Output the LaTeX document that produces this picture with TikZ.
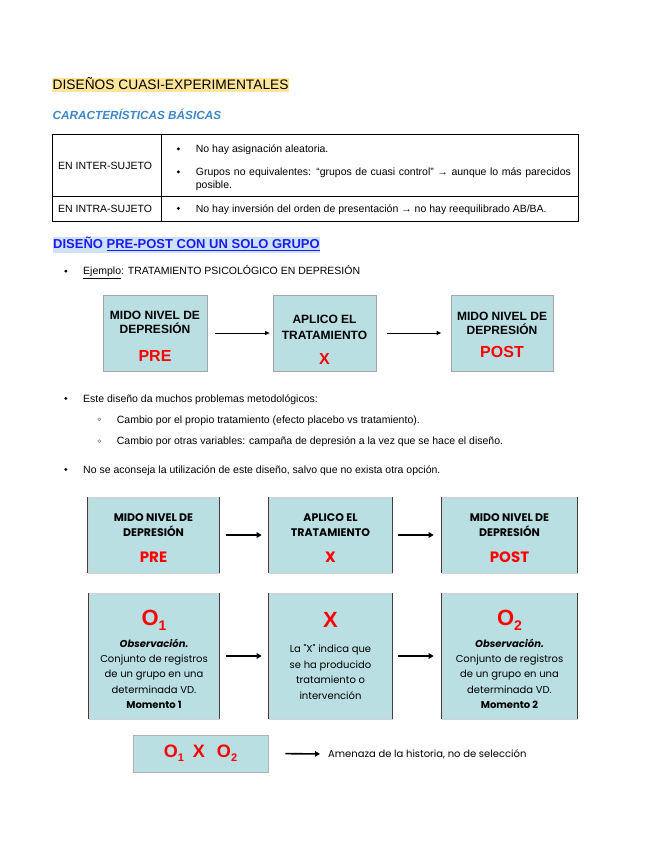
\documentclass[tikz,border=0pt]{standalone}
\usepackage{fontspec}
\setmainfont{Liberation Sans}
\newfontfamily\pop{Poppins}
\usetikzlibrary{arrows.meta}
\definecolor{boxfill}{HTML}{B9DFE3}
\definecolor{hlyellow}{HTML}{FFE599}
\definecolor{hlblue}{HTML}{CFE2F3}
\definecolor{headblue}{HTML}{1C1CF0}
\definecolor{subblue}{HTML}{3D85C6}
\definecolor{pred}{HTML}{FF0000}
\begin{document}
\begin{tikzpicture}[x=1pt,y=-1pt,
  txt/.style={anchor=base west,inner sep=0pt,font=\fontsize{10.5}{12.6}\selectfont},
  bul/.style={fill=black},
  subbul/.style={draw=gray,line width=0.5pt},
  boxA/.style={draw=gray!70,line width=0.8pt,fill=boxfill,inner sep=0pt,align=center,font=\fontsize{12}{14}\selectfont\bfseries},
  boxB/.style={draw=gray!35,line width=0.6pt,fill=boxfill,inner sep=0pt,align=center,font=\pop\fontsize{11}{15}\selectfont\bfseries},
  boxC/.style={draw=gray!35,line width=0.6pt,fill=boxfill,inner sep=0pt,align=center,font=\pop\fontsize{10}{15.3}\selectfont},
  boxD/.style={draw=gray!60,line width=0.8pt,fill=boxfill,inner sep=0pt,align=center},
  sideedge/.style={draw=black!75,line width=1.1pt},
  arrA/.style={-{Triangle[length=4.5pt,width=4pt]},line width=0.8pt},
  arrB/.style={-{Triangle[length=5pt,width=5.5pt]},line width=1.6pt}
]
\useasboundingbox (0,0) rectangle (655,848);

% headings
\node[anchor=base west,fill=hlyellow,inner xsep=0.5pt,inner ysep=1pt,text height=10.3pt,text depth=1pt,font=\fontsize{13.75}{16}\selectfont] (title) at (52,89.8) {DISEÑOS CUASI-EXPERIMENTALES};
\node[anchor=base west,inner sep=0pt,font=\fontsize{11.75}{14}\selectfont\bfseries\itshape,text=subblue] (carac) at (52.5,119.3) {CARACTERÍSTICAS BÁSICAS};

% table
\draw[line width=0.9pt] (52,134) rectangle (578,221);
\draw[line width=0.9pt] (161,134) -- (161,221);
\draw[line width=0.9pt] (52,196) -- (578,196);
\node[txt] (inter) at (58,169.8) {EN INTER-SUJETO};
\node[txt] (intra) at (58,212) {EN INTRA-SUJETO};
\node[txt] (t1) at (195.7,152.5) {No hay asignación aleatoria.};
\node[txt] (t2) at (195.7,175.5) {\makebox[375pt][s]{Grupos no equivalentes: “grupos de cuasi control” → aunque lo más parecidos}};
\node[txt] (t3) at (195.7,188) {posible.};
\node[txt] (t4) at (195.7,212) {No hay inversión del orden de presentación → no hay reequilibrado AB/BA.};
\fill[bul] (178.3,148.9) circle (1.6);
\fill[bul] (178.3,171.9) circle (1.6);
\fill[bul] (178.3,208.4) circle (1.6);

% section
\node[anchor=base west,fill=hlblue,inner xsep=0.5pt,inner ysep=1pt,text height=11pt,text depth=3pt,font=\fontsize{13}{16}\selectfont\bfseries,text=headblue] (sec) at (52.5,248.5) {DISEÑO \underline{PRE-POST CON UN SOLO GRUPO}};
\node[txt] (ej) at (83,274.7) {\underline{Ejemplo}: TRATAMIENTO PSICOLÓGICO EN DEPRESIÓN};
\fill[bul] (65.8,271.1) circle (1.6);

% row A
\node[boxA,minimum width=104,minimum height=76] (a1) at (155,333) {\rule{0pt}{15.6pt}MIDO NIVEL DE\\DEPRESIÓN\\[14pt]{\color{pred}\fontsize{16}{16}\selectfont PRE}};
\node[boxA,minimum width=103,minimum height=76] (a2) at (324.5,333) {\rule{0pt}{22.6pt}APLICO EL\\[2pt]TRATAMIENTO\\[11pt]{\color{pred}\fontsize{16}{16}\selectfont X}};
\node[boxA,minimum width=102,minimum height=76] (a3) at (502,333) {\rule{0pt}{12.6pt}MIDO NIVEL DE\\DEPRESIÓN\\[9pt]{\color{pred}\fontsize{16}{16}\selectfont POST}};
\draw[arrA,shorten <=8pt,shorten >=3pt] (a1.east) -- (a2.west);
\draw[arrA,shorten <=10.5pt,shorten >=9.5pt] (a2.east) -- (a3.west);

% bullet list
\node[txt] (p1) at (83,402) {Este diseño da muchos problemas metodológicos:};
\node[txt] (s1) at (116.7,423) {Cambio por el propio tratamiento (efecto placebo vs tratamiento).};
\node[txt] (s2) at (116.7,444.7) {Cambio por otras variables: campaña de depresión a la vez que se hace el diseño.};
\node[txt] (p2) at (83,473) {No se aconseja la utilización de este diseño, salvo que no exista otra opción.};
\fill[bul] (65.8,398.4) circle (1.6);
\draw[subbul] (99.3,419.4) circle (1.5);
\draw[subbul] (99.3,441.1) circle (1.5);
\fill[bul] (65.8,469.4) circle (1.6);

% row B
\node[boxB,minimum width=131,minimum height=76] (b1) at (153.5,535) {\rule{0pt}{14.7pt}MIDO NIVEL DE\\DEPRESIÓN\\[11pt]{\color{pred}\fontsize{15}{15}\selectfont PRE}};
\node[boxB,minimum width=123,minimum height=76] (b2) at (330.5,535) {\rule{0pt}{14.7pt}APLICO EL\\TRATAMIENTO\\[11pt]{\color{pred}\fontsize{15}{15}\selectfont X}};
\node[boxB,minimum width=135,minimum height=76] (b3) at (509.5,535) {\rule{0pt}{14.7pt}MIDO NIVEL DE\\DEPRESIÓN\\[11pt]{\color{pred}\fontsize{15}{15}\selectfont POST}};
\draw[arrB,shorten <=7pt,shorten >=7pt] (b1.east) -- (b2.west);
\draw[arrB,shorten <=6pt,shorten >=8pt] (b2.east) -- (b3.west);

% row C
\node[boxC,minimum width=130,minimum height=126] (c1) at (154,656) {{\rmfamily\bfseries\color{pred}\fontsize{22}{22}\selectfont\rule{0pt}{21.8pt}O\raisebox{-5pt}{\fontsize{14}{14}\selectfont 1}}\\[6.5pt]{\bfseries\itshape Observación.}\\Conjunto de registros\\de un grupo en una\\determinada VD.\\{\bfseries Momento 1}};
\node[boxC,minimum width=123,minimum height=126] (c2) at (330.5,656) {{\rmfamily\bfseries\color{pred}\fontsize{22}{22}\selectfont X}\\[9pt]La "X" indica que\\[0.5pt]se ha producido\\[0.5pt]tratamiento o\\intervención};
\node[boxC,minimum width=135,minimum height=126] (c3) at (509.5,656) {{\rmfamily\bfseries\color{pred}\fontsize{22}{22}\selectfont\rule{0pt}{21.8pt}O\raisebox{-5pt}{\fontsize{14}{14}\selectfont 2}}\\[6.5pt]{\bfseries\itshape Observación.}\\Conjunto de registros\\de un grupo en una\\determinada VD.\\{\bfseries Momento 2}};
\draw[arrB,shorten <=7pt,shorten >=7pt] (c1.east) -- (c2.west);
\draw[arrB,shorten <=6pt,shorten >=8pt] (c2.east) -- (c3.west);

\foreach \n in {b1,b2,b3,c1,c2,c3}
  \draw[sideedge] (\n.north west) -- (\n.south west) (\n.north east) -- (\n.south east);

% row D
\node[boxD,minimum width=135,minimum height=37] (d) at (200.5,753.5) {\color{pred}\fontsize{18}{18}\selectfont\bfseries O\raisebox{-4pt}{\fontsize{11}{11}\selectfont 1}\hspace{9pt}X\hspace{12pt}O\raisebox{-4pt}{\fontsize{11}{11}\selectfont 2}};
\node[anchor=west,inner sep=0pt,font=\pop\fontsize{10}{12}\selectfont] (amen) at (328,754) {Amenaza de la historia, no de selección};
\draw[arrB,shorten <=17pt,shorten >=8pt] (d.east) -- (amen.west);
\end{tikzpicture}
\end{document}
